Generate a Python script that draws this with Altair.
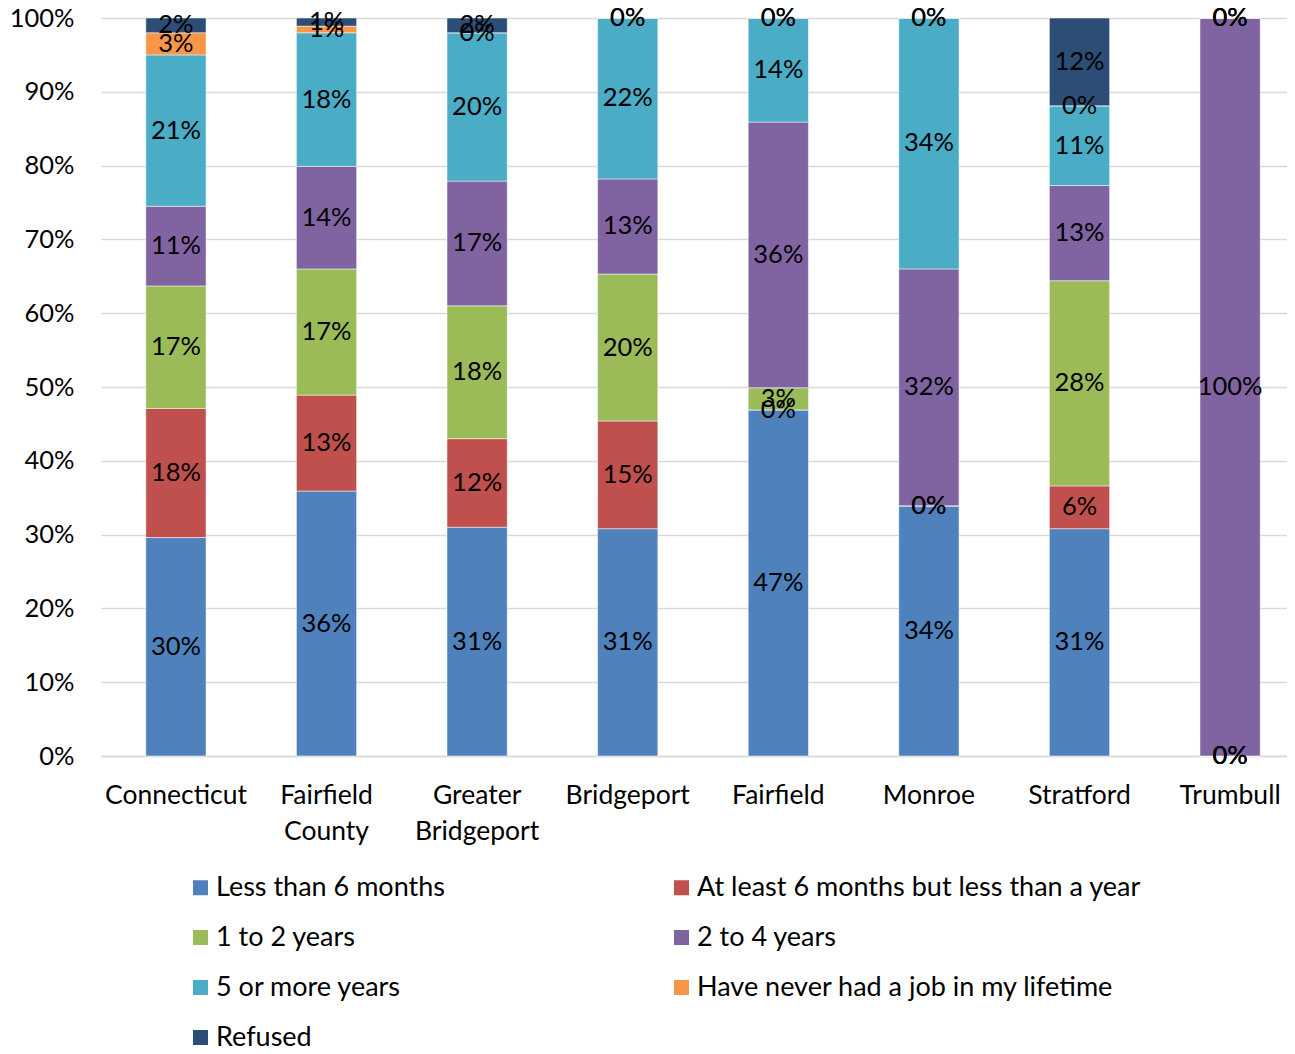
import altair as alt
import pandas as pd

categories = ["Connecticut", "Fairfield County", "Greater Bridgeport", "Bridgeport",
              "Fairfield", "Monroe", "Stratford", "Trumbull"]
series = ["Less than 6 months", "At least 6 months but less than a year", "1 to 2 years",
          "2 to 4 years", "5 or more years", "Have never had a job in my lifetime", "Refused"]
colors = ["#4F81BD", "#C0504D", "#9BBB59", "#8064A2", "#4BACC6", "#F79646", "#2C4D75"]

less_than_6m = [29.6, 35.9, 31.0, 30.8, 46.9, 33.9, 30.8, 0.0]
six_m_to_1y = [17.5, 13.0, 12.0, 14.6, 0.0, 0.0, 5.8, 0.0]
one_to_2y = [16.6, 17.1, 18.0, 19.9, 3.0, 0.0, 27.8, 0.0]
two_to_4y = [10.8, 13.9, 16.9, 12.9, 36.0, 32.1, 12.9, 100.0]
five_plus = [20.5, 18.1, 20.1, 21.8, 14.1, 34.0, 10.8, 0.0]
never_job = [3.0, 0.9, 0.0, 0.0, 0.0, 0.0, 0.0, 0.0]
refused = [2.0, 1.1, 2.0, 0.0, 0.0, 0.0, 11.9, 0.0]

all_series = [less_than_6m, six_m_to_1y, one_to_2y, two_to_4y, five_plus, never_job, refused]

rows = []
for si, (name, vals) in enumerate(zip(series, all_series)):
    for ci, cat in enumerate(categories):
        rows.append({"cat": cat, "series": name, "order": si, "value": vals[ci]})
df = pd.DataFrame(rows)

# legend is laid out column by column: reorder so it reads row by row like the reference
legend_idx = [0, 2, 4, 6, 1, 3, 5]
legend_domain = [series[i] for i in legend_idx]
legend_range = [colors[i] for i in legend_idx]

FONT = "Lato"

base = alt.Chart(df).transform_stack(
    stack="value", as_=["y0", "y1"], groupby=["cat"], sort=[alt.SortField("order", order="ascending")]
).transform_calculate(
    mid="(datum.y0 + datum.y1) / 2",
    label="format(datum.value, '.0f') + '%'"
)

xscale = alt.Scale(paddingInner=0.6, paddingOuter=0.2377, align=0.626)

xenc = alt.X("cat:N", sort=categories, title=None, scale=xscale,
             axis=alt.Axis(labelAngle=0, labelFontSize=26.5, labelFont=FONT, labelColor="#000000",
                           labelPadding=26, labelLineHeight=36, ticks=False,
                           domainColor="#D9D9D9", domainWidth=1.5,
                           labelExpr="split(datum.label, ' ')"))

bars = base.mark_bar(stroke="white", strokeWidth=0.5).encode(
    x=xenc,
    y=alt.Y("y0:Q", title=None, scale=alt.Scale(domain=[0, 100], nice=False),
            axis=alt.Axis(values=list(range(0, 101, 10)), labelExpr="datum.value + '%'",
                          labelFontSize=25.5, labelFont=FONT, labelColor="#000000",
                          labelPadding=27, ticks=False, domain=False,
                          gridColor="#D9D9D9", gridWidth=1.5)),
    y2="y1:Q",
    color=alt.Color("series:N", sort=legend_domain,
                    scale=alt.Scale(domain=legend_domain, range=legend_range),
                    legend=alt.Legend(title=None, orient="none", legendX=86, legendY=856,
                                      columns=2, columnPadding=223, rowPadding=22,
                                      symbolType="square", symbolSize=225, symbolStrokeWidth=0,
                                      labelFontSize=27, labelFont=FONT, labelColor="#000000",
                                      labelOffset=2, labelLimit=700)),
    order=alt.Order("order:Q")
)

texts = base.mark_text(fontSize=25.5, font=FONT, color="#000000", baseline="middle").encode(
    x=alt.X("cat:N", sort=categories, scale=xscale),
    y=alt.Y("mid:Q"),
    text="label:N"
)

chart = alt.layer(bars, texts).properties(
    width=1186, height=738,
    autosize=alt.AutoSizeParams(type="none"),
    padding={"left": 93, "top": 10, "right": 0, "bottom": 290}
).configure_view(stroke=None)

chart.save("out.html", embed_options={"renderer": "svg", "actions": False})
